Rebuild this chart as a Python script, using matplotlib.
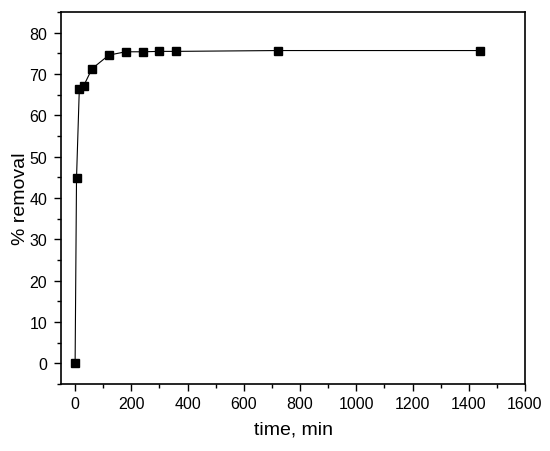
import numpy as np
import matplotlib
matplotlib.use("Agg")
import matplotlib.pyplot as plt
from matplotlib.ticker import MultipleLocator

plt.rcParams['font.family'] = ['Liberation Sans', 'DejaVu Sans']

time_min = [0, 5, 15, 30, 60, 120, 180, 240, 300, 360, 720, 1440]
removal = [0.0, 44.8, 66.5, 67.1, 71.3, 74.6, 75.4, 75.4, 75.5, 75.5, 75.7, 75.7]

fig = plt.figure(figsize=(5.5, 4.52), dpi=100)
ax = fig.add_axes([0.111, 0.148, 0.8435, 0.823])

ax.plot(time_min, removal, color='black', lw=0.8, marker='s', ms=6,
        markerfacecolor='black', markeredgecolor='black')

ax.set_xlim(-50, 1600)
ax.set_ylim(-5, 85)
ax.xaxis.set_major_locator(MultipleLocator(200))
ax.xaxis.set_minor_locator(MultipleLocator(100))
ax.yaxis.set_major_locator(MultipleLocator(10))
ax.yaxis.set_minor_locator(MultipleLocator(5))
ax.tick_params(which='both', direction='out', top=False, right=False, labelsize=11.5)
ax.tick_params(which='major', length=5, width=1)
ax.tick_params(which='minor', length=3, width=1)
ax.tick_params(axis='y', which='major', pad=5)
for s in ax.spines.values():
    s.set_linewidth(1.2)

ax.set_xlabel('time, min', fontsize=14, labelpad=7)
ax.set_ylabel('% removal', fontsize=14, labelpad=0)

fig.savefig('out.png', dpi=100)
